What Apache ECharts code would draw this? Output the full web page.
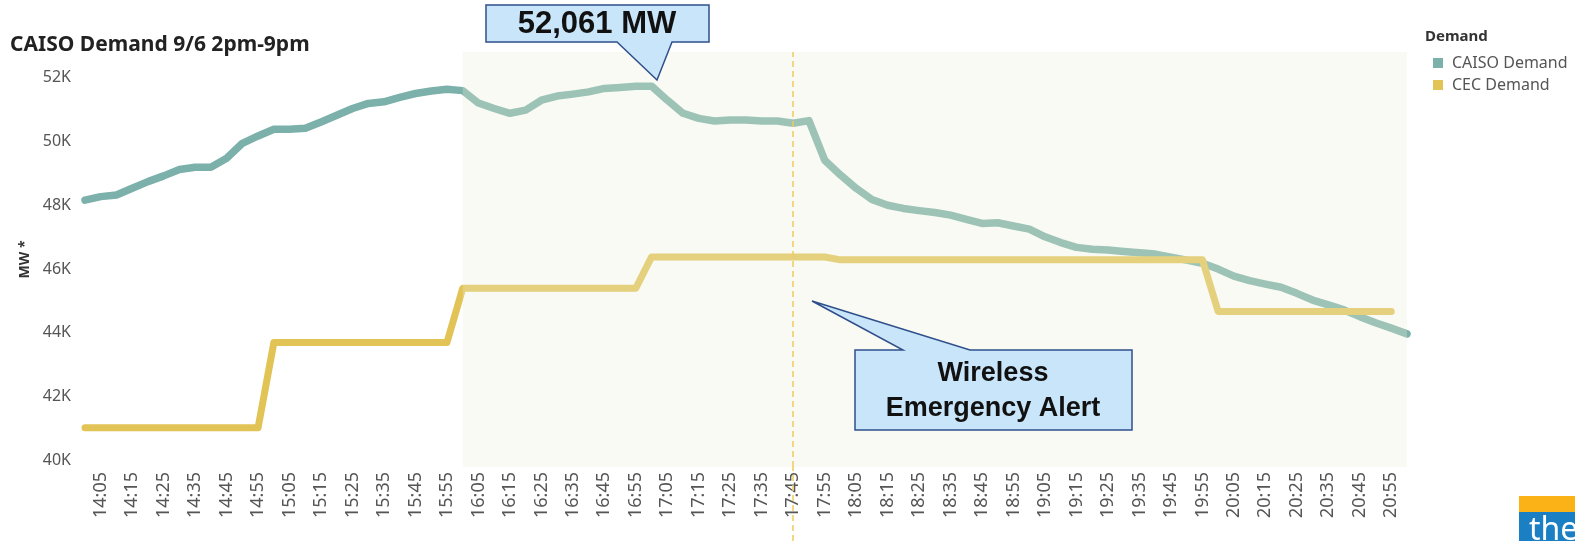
<!DOCTYPE html>
<html>
<head>
<meta charset="utf-8">
<script src="https://cdn.jsdelivr.net/npm/echarts@6/dist/echarts.min.js"></script>
<style>html,body{margin:0;padding:0;background:#fff;}#c{width:1575px;height:541px;}</style>
</head>
<body>
<div id="c"></div>
<script>
const categories = ['14:00','14:05','14:10','14:15','14:20','14:25','14:30','14:35','14:40','14:45','14:50','14:55',
'15:00','15:05','15:10','15:15','15:20','15:25','15:30','15:35','15:40','15:45','15:50','15:55',
'16:00','16:05','16:10','16:15','16:20','16:25','16:30','16:35','16:40','16:45','16:50','16:55',
'17:00','17:05','17:10','17:15','17:20','17:25','17:30','17:35','17:40','17:45','17:50','17:55',
'18:00','18:05','18:10','18:15','18:20','18:25','18:30','18:35','18:40','18:45','18:50','18:55',
'19:00','19:05','19:10','19:15','19:20','19:25','19:30','19:35','19:40','19:45','19:50','19:55',
'20:00','20:05','20:10','20:15','20:20','20:25','20:30','20:35','20:40','20:45','20:50','20:55','21:00'];

const caisoDemand = [48160,48270,48320,48530,48740,48920,49120,49190,49190,49470,49940,50170,
50380,50380,50410,50610,50820,51030,51190,51240,51380,51500,51580,51630,
51590,51200,51030,50880,50980,51290,51420,51480,51550,51660,51690,51730,
51730,51290,50880,50720,50640,50670,50670,50640,50640,50570,50650,49410,
48950,48530,48180,48000,47900,47830,47770,47690,47560,47430,47450,47350,
47250,47010,46830,46680,46620,46600,46550,46510,46470,46370,46280,46180,
46000,45780,45640,45530,45430,45240,45030,44880,44720,44510,44320,44150,43970];

const cecDemand = [41030,41030,41030,41030,41030,41030,41030,41030,41030,41030,41030,41030,
43700,43700,43700,43700,43700,43700,43700,43700,43700,43700,43700,43700,
45400,45400,45400,45400,45400,45400,45400,45400,45400,45400,45400,45400,
46380,46380,46380,46380,46380,46380,46380,46380,46380,46380,46380,46380,
46290,46290,46290,46290,46290,46290,46290,46290,46290,46290,46290,46290,
46290,46290,46290,46290,46290,46290,46290,46290,46290,46290,46290,46290,
44670,44670,44670,44670,44670,44670,44670,44670,44670,44670,44670,44670,null];

const yTickValues = [40000,42000,44000,46000,48000,50000,52000];
const shadeStart = '16:00', shadeEnd = '21:00';
const alertTime = '17:45';
const peakLabel = '52,061 MW';
const alertLabel = 'Wireless\nEmergency Alert';

const chart = echarts.init(document.getElementById('c'));
const FONT = '"Noto Sans", "Open Sans", sans-serif';
const dashStyle = {color:'#f0cb5c', width:1.5, type:[6,4]};

const option = {
  backgroundColor:'#ffffff',
  animation:false,
  title:[
    {text:'CAISO Demand 9/6 2pm-9pm', left:10, top:35, padding:0,
     textStyle:{fontFamily:FONT, fontWeight:'bold', fontSize:21, color:'#222'}},
    {text:'Demand', left:1425, top:29, padding:0,
     textStyle:{fontFamily:FONT, fontWeight:'bold', fontSize:15, color:'#333'}}
  ],
  legend:{
    orient:'vertical', left:1428, top:50, itemWidth:10, itemHeight:10, itemGap:6, icon:'rect',
    data:['CAISO Demand','CEC Demand'],
    textStyle:{fontFamily:FONT, fontSize:16, color:'#555', padding:[0,0,0,4]}
  },
  grid:[
    {left:85, right:168, top:52, bottom:74},
    {left:85, right:168, top:467, bottom:0}
  ],
  xAxis:[
    {type:'category', data:categories, boundaryGap:false,
     axisLine:{show:false}, axisTick:{show:false}, splitLine:{show:false},
     axisLabel:{rotate:90, margin:5, fontFamily:FONT, fontSize:18, color:'#555',
       interval:function(i){return i%2===1;}}},
    {type:'category', data:categories, boundaryGap:false, gridIndex:1, show:false}
  ],
  yAxis:[
    {type:'value', min:39800, max:52800, interval:200,
     name:'MW *', nameLocation:'middle', nameRotate:90, nameGap:50,
     nameTextStyle:{fontFamily:FONT, fontWeight:'bold', fontSize:14, color:'#333'},
     axisLine:{show:false}, axisTick:{show:false}, splitLine:{show:false},
     axisLabel:{margin:14, fontFamily:FONT, fontSize:16, color:'#555',
       formatter:function(v){return yTickValues.indexOf(v)>=0 ? (v/1000)+'K' : '';}}},
    {type:'value', gridIndex:1, min:0, max:1, show:false}
  ],
  series:[
    {name:'CAISO Demand', type:'line', data:caisoDemand, showSymbol:false, z:2,
     color:'#7bb1aa',
     lineStyle:{width:7.5, color:'#7bb1aa', cap:'round', join:'round'}},
    {name:'CEC Demand', type:'line', data:cecDemand, showSymbol:false, z:2,
     color:'#e2c356',
     lineStyle:{width:7, color:'#e2c356', cap:'round', join:'round'}},
    {name:'shade', type:'line', data:[], z:5, silent:true,
     markArea:{z:10, silent:true, itemStyle:{color:'rgba(236,240,214,0.3)'},
       data:[[{xAxis:shadeStart},{xAxis:shadeEnd}]]},
     markLine:{z:11, silent:true, symbol:'none', label:{show:false}, lineStyle:dashStyle,
       data:[{xAxis:alertTime}]}},
    {name:'alertExt', type:'line', data:[], xAxisIndex:1, yAxisIndex:1, silent:true,
     markLine:{silent:true, symbol:'none', label:{show:false}, lineStyle:dashStyle,
       data:[{xAxis:alertTime}]}}
  ]
};
chart.setOption(option);

const boxFill = '#c9e5f9', boxStroke = '#2f4f8c';
chart.setOption({
  graphic:[
    {type:'polygon', z:100,
     shape:{points:[[486,5],[709,5],[709,42],[672,42],[657,80],[617,42],[486,42]]},
     style:{fill:boxFill, stroke:boxStroke, lineWidth:1.5}},
    {type:'text', z:101, style:{text:peakLabel, x:597, y:24, align:'center', verticalAlign:'middle',
      fill:'#111', font:'bold 31px "Liberation Sans", Arial, sans-serif'}},
    {type:'polygon', z:100,
     shape:{points:[[855,350],[903,350],[812,301],[970,350],[1132,350],[1132,430],[855,430]]},
     style:{fill:boxFill, stroke:boxStroke, lineWidth:1.5}},
    {type:'text', z:101, style:{text:alertLabel, x:993, y:391, align:'center', verticalAlign:'middle',
      lineHeight:35, fill:'#111', font:'bold 27px "Liberation Sans", Arial, sans-serif'}},
    {type:'rect', z:100, shape:{x:1519, y:496, width:56, height:16}, style:{fill:'#fbb217'}},
    {type:'rect', z:100, shape:{x:1519, y:512, width:56, height:29}, style:{fill:'#1b7fc4'}},
    {type:'text', z:101, style:{text:'the', x:1529, y:547, verticalAlign:'bottom',
      fill:'#ffffff', font:'32px "Noto Sans", sans-serif'}}
  ]
});
</script>
</body>
</html>
